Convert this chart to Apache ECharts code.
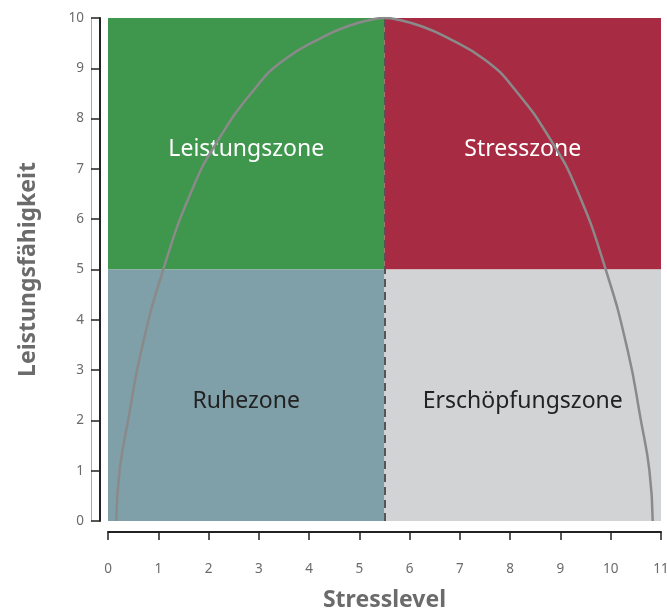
<!DOCTYPE html>
<html>
<head>
<meta charset="utf-8">
<script src="https://cdn.jsdelivr.net/npm/echarts@6/dist/echarts.min.js"></script>
<style>
  html, body { margin: 0; padding: 0; background: #fff; }
  #chart { width: 667px; height: 610px; }
</style>
</head>
<body>
<div id="chart"></div>
<script>
// Kurve
var curveX = [0.165, 0.23, 0.40, 0.66, 1.10, 1.67, 2.19, 2.90, 3.49, 4.29, 4.75, 5.21, 5.5,
              5.79, 6.25, 6.71, 7.51, 8.10, 8.81, 9.33, 9.90, 10.34, 10.60, 10.77, 10.835];
var curveY = [0, 1, 2, 3.38, 5, 6.58, 7.57, 8.57, 9.16, 9.63, 9.83, 9.96, 10,
              9.96, 9.83, 9.63, 9.16, 8.57, 7.57, 6.58, 5, 3.38, 2, 1, 0];

// Zonen
var zoneNames = ['Leistungszone', 'Stresszone', 'Ruhezone', 'Erschöpfungszone'];
var zoneX0 = [0, 5.5, 0, 5.5];
var zoneX1 = [5.5, 11, 5.5, 11];
var zoneY0 = [5, 5, 0, 0];
var zoneY1 = [10, 10, 5, 5];
var zoneColors = ['#3f964d', '#a72b43', '#7f9fa9', '#d2d3d5'];
var zoneTextColors = ['#ffffff', '#ffffff', '#222222', '#222222'];

var splitX = 5.5;

var xTicks = [0, 1, 2, 3, 4, 5, 6, 7, 8, 9, 10, 11];
var yTicks = [0, 1, 2, 3, 4, 5, 6, 7, 8, 9, 10];

var fontFam = '"Noto Sans", "Open Sans", sans-serif';

var chart = echarts.init(document.getElementById('chart'));

var curveData = curveX.map(function (x, i) { return [x, curveY[i]]; });
var areas = zoneNames.map(function (n, i) {
  return [
    {
      name: n,
      xAxis: zoneX0[i], yAxis: zoneY0[i],
      itemStyle: { color: zoneColors[i], opacity: 1 },
      label: { color: zoneTextColors[i] }
    },
    { xAxis: zoneX1[i], yAxis: zoneY1[i] }
  ];
});

var option = {
  backgroundColor: '#fff',
  animation: false,
  grid: { left: 108, right: 6, top: 18, bottom: 89, containLabel: false, outerBoundsMode: 'none' },
  xAxis: {
    type: 'value',
    min: xTicks[0],
    max: xTicks[xTicks.length - 1],
    interval: 1,
    offset: 11,
    name: 'Stresslevel',
    nameLocation: 'middle',
    nameGap: 57,
    nameTextStyle: { fontFamily: fontFam, fontSize: 23, fontWeight: 'bold', color: '#6b6b6b' },
    splitLine: { show: false },
    axisLine: { show: true, onZero: false, lineStyle: { color: '#222', width: 2 } },
    axisTick: { show: true, length: 8, lineStyle: { color: '#222', width: 1.5 } },
    axisLabel: { margin: 30, fontFamily: fontFam, fontSize: 13.5, color: '#6b6b6b' }
  },
  yAxis: [
    {
      type: 'value',
      min: yTicks[0],
      max: yTicks[yTicks.length - 1],
      interval: 1,
      offset: 8,
      name: 'Leistungsfähigkeit',
      nameLocation: 'middle',
      nameGap: 60,
      nameRotate: 90,
      nameTextStyle: { fontFamily: fontFam, fontSize: 23, fontWeight: 'bold', color: '#6b6b6b' },
      splitLine: { show: false },
      axisLine: { show: true, onZero: false, lineStyle: { color: '#222', width: 2 } },
      axisTick: { show: true, length: 9, lineStyle: { color: '#222', width: 1.5 } },
      axisLabel: { margin: 16, fontFamily: fontFam, fontSize: 13.5, color: '#6b6b6b' }
    },
    {
      type: 'value',
      min: yTicks[0],
      max: yTicks[yTicks.length - 1],
      position: 'left',
      offset: 17,
      splitLine: { show: false },
      axisLine: { show: true, onZero: false, lineStyle: { color: '#aaa', width: 1 } },
      axisTick: { show: false },
      axisLabel: { show: false }
    }
  ],
  series: [
    {
      type: 'line',
      data: [],
      z: 1,
      silent: true,
      markArea: {
        silent: true,
        label: {
          show: true,
          position: 'inside',
          offset: [0, 6],
          fontFamily: fontFam,
          fontSize: 23
        },
        data: areas
      },
      markLine: {
        silent: true,
        symbol: ['none', 'none'],
        label: { show: false },
        lineStyle: { color: '#555', width: 2, type: [8, 5] },
        data: [{ xAxis: splitX }]
      }
    },
    {
      type: 'line',
      data: curveData,
      z: 5,
      smooth: 0.5,
      showSymbol: false,
      clip: true,
      lineStyle: { color: '#8a8a8a', width: 2.5 }
    }
  ]
};

chart.setOption(option);
</script>
</body>
</html>
